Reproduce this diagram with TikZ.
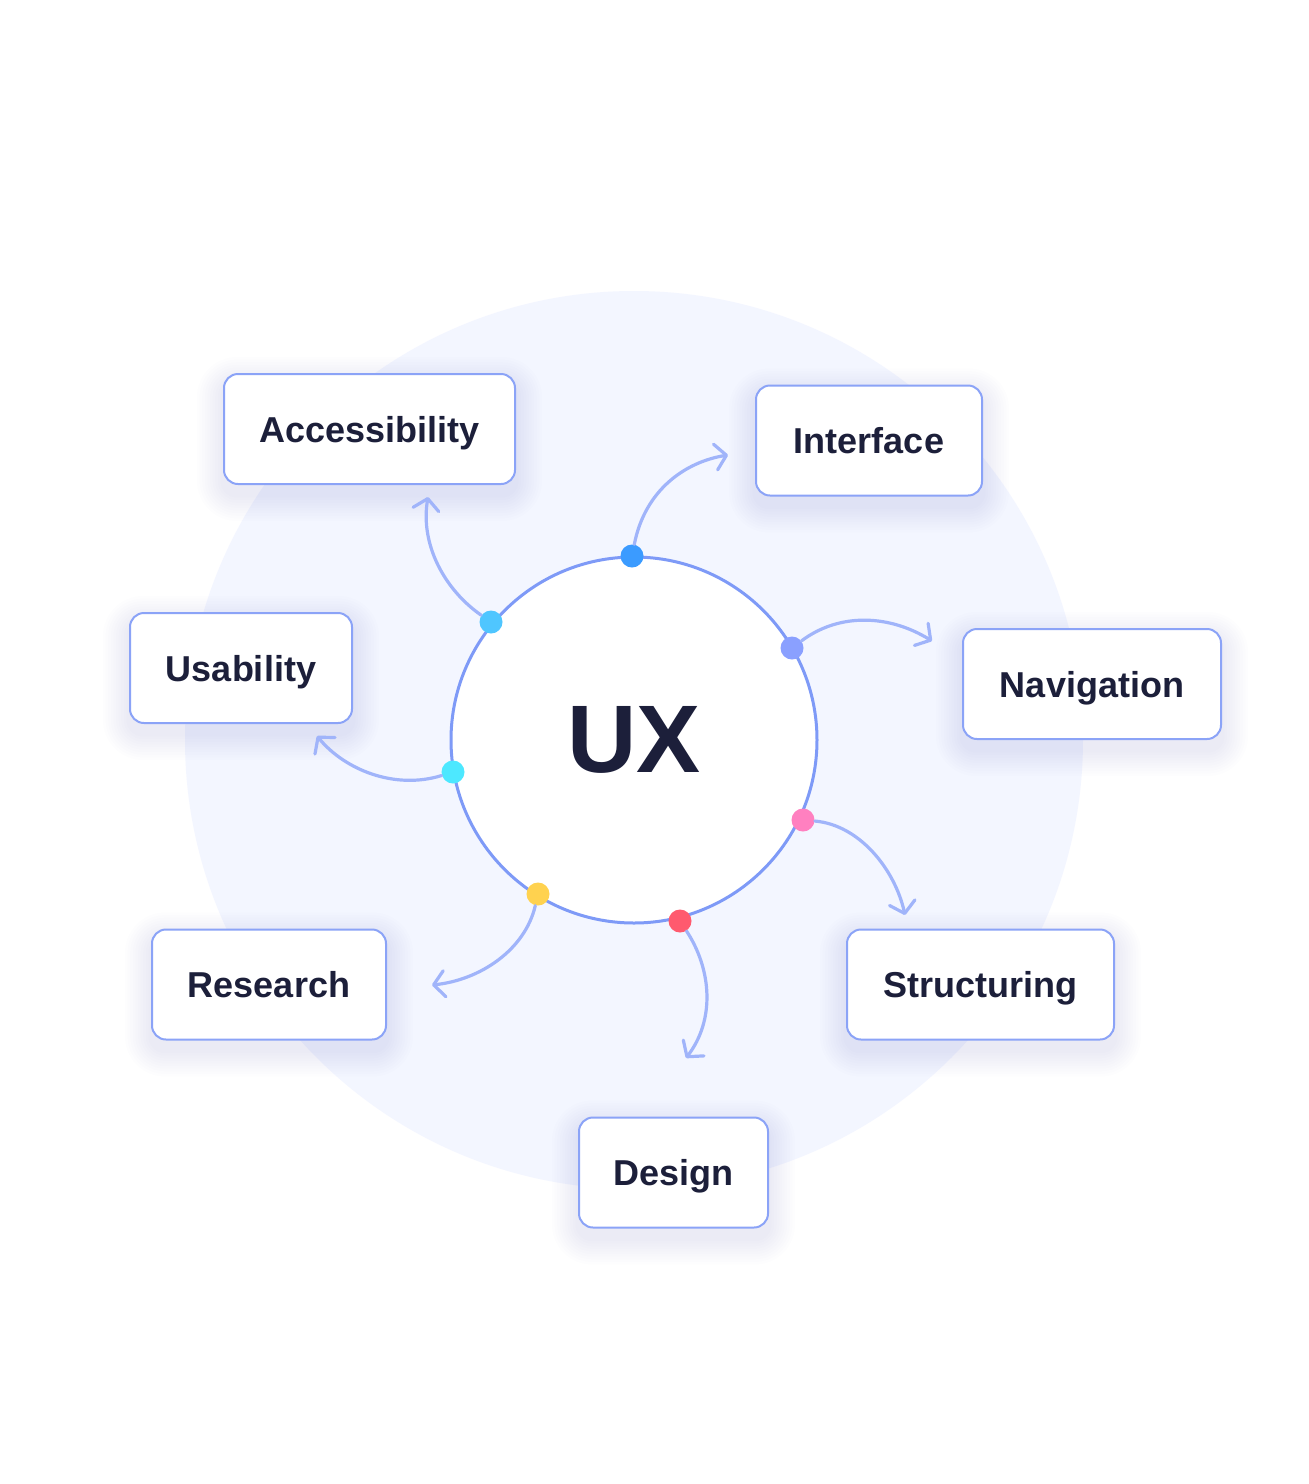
\documentclass[tikz,border=0pt]{standalone}
\usepackage{fontspec}
\setmainfont{Liberation Sans}
\usetikzlibrary{arrows.meta,backgrounds}
\definecolor{bgc}{HTML}{F3F6FF}
\definecolor{ring}{HTML}{7E9AF7}
\definecolor{boxb}{HTML}{8BA3F7}
\definecolor{arr}{HTML}{A0B4FA}
\definecolor{txt}{HTML}{1C1F3A}
\definecolor{shd}{HTML}{3A4480}
\definecolor{cI}{HTML}{3B9BFF}
\definecolor{cN}{HTML}{8AA0FF}
\definecolor{cS}{HTML}{FF80C0}
\definecolor{cD}{HTML}{FF5A6E}
\definecolor{cR}{HTML}{FFD24F}
\definecolor{cU}{HTML}{4DE8FF}
\definecolor{cA}{HTML}{4FC6FF}
\tikzset{
  topic/.style={draw=boxb, line width=1pt, fill=white, rounded corners=7pt,
    minimum height=55pt, text=txt, text height=13pt, text depth=0pt,
    font=\bfseries\fontsize{18}{22}\selectfont},
  dotn/.style={circle, inner sep=0pt, minimum size=11.5pt},
  link/.style={draw=arr, line width=1.6pt, line cap=round,
    -{Straight Barb[length=5.5pt,width=13pt,line cap=round,line join=round]}}
}
\newcommand\softshadow[1]{%
  \foreach \k in {1,...,10}{%
    \fill[shd, opacity=0.006, rounded corners=7pt+\k*1.3pt]
      ([xshift=-\k*1.3pt, yshift=-5pt+\k*1.3pt]#1.north west) rectangle
      ([xshift=\k*1.3pt, yshift=-5pt-\k*1.3pt]#1.south east);}}
\begin{document}
\begin{tikzpicture}[x=0.5pt,y=-0.5pt]
\useasboundingbox (0,0) rectangle (1308,1484);

\node[topic, minimum width=145.5pt] (acc) at (369.5,429) {Accessibility};
\node[topic, minimum width=113pt] (int) at (869,440.5) {Interface};
\node[topic, minimum width=129pt] (nav) at (1092,684) {Navigation};
\node[topic, minimum width=111pt] (usa) at (241,668) {Usability};
\node[topic, minimum width=117pt] (res) at (269,984.5) {Research};
\node[topic, minimum width=133.5pt] (str) at (980.5,984.5) {Structuring};
\node[topic, minimum width=94.5pt] (des) at (673.5,1172.5) {Design};

\begin{scope}[on background layer]
\fill[white] (0,0) rectangle (1308,1484);
\fill[bgc] (634,740) circle [radius=449];
\softshadow{acc}
\softshadow{int}
\softshadow{nav}
\softshadow{usa}
\softshadow{res}
\softshadow{str}
\softshadow{des}
\end{scope}

\node[circle, draw=ring, line width=1.5pt, fill=white, minimum size=183pt, inner sep=0pt,
  text=txt, font=\bfseries\fontsize{48}{56}\selectfont] (ux) at (634,740) {UX};

\node[dotn, fill=cI] (dI) at (632,556) {};
\node[dotn, fill=cN] (dN) at (792,648) {};
\node[dotn, fill=cS] (dS) at (803,820) {};
\node[dotn, fill=cD] (dD) at (680,921) {};
\node[dotn, fill=cR] (dR) at (538,894) {};
\node[dotn, fill=cU] (dU) at (453,772) {};
\node[dotn, fill=cA] (dA) at (491,622) {};

\coordinate (eI) at (728,455);
\coordinate (eN) at (932,641);
\coordinate (eS) at (905,915);
\coordinate (eD) at (686,1058);
\coordinate (eR) at (432,985);
\coordinate (eU) at (317,736);
\coordinate (eA) at (428,497);

\path[link] (dI) .. controls (645,490) and (685,462) .. (eI);
\path[link] (dN) .. controls (840,612) and (890,615) .. (eN);
\path[link] (dS) .. controls (860,825) and (895,870) .. (eS);
\path[link] (dD) .. controls (712,970) and (715,1020) .. (eD);
\path[link] (dR) .. controls (525,950) and (480,980) .. (eR);
\path[link] (dU) .. controls (395,790) and (345,770) .. (eU);
\path[link] (dA) .. controls (445,590) and (420,545) .. (eA);
\end{tikzpicture}
\end{document}
